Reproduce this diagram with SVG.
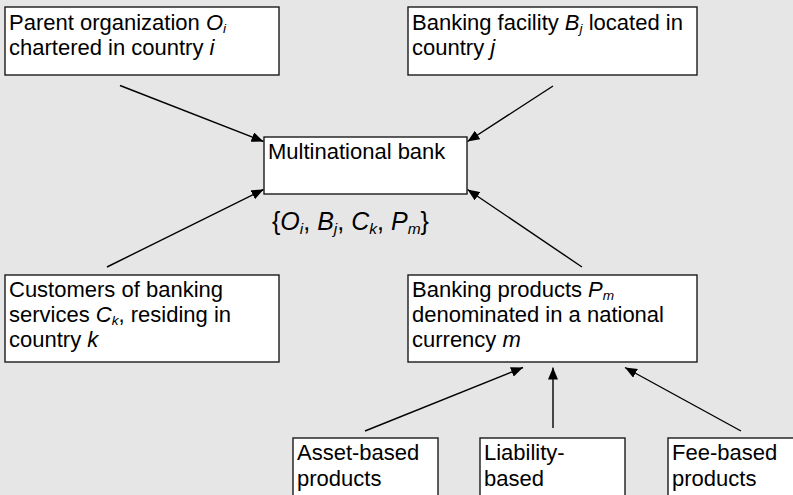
<svg xmlns="http://www.w3.org/2000/svg" width="793" height="495" viewBox="0 0 793 495">
<style>
.bg{fill:#e6e6e6}
.box{fill:#ffffff;stroke:#1a1a1a;stroke-width:1.4}
.t{font-family:"Liberation Sans",Arial,sans-serif;font-size:22px;fill:#000}
.lbl{font-family:"Liberation Sans",Arial,sans-serif;font-size:25px;fill:#000}
.i{font-style:italic}
.s{font-size:62%;font-style:italic}
.c{fill:none;stroke:#000;stroke-width:1.4}
</style>
<defs>
<marker id="ah" viewBox="0 0 12 10" refX="12" refY="5" markerWidth="12" markerHeight="10" markerUnits="userSpaceOnUse" orient="auto">
<path d="M0,0 L12,5 L0,10 Z" fill="#000"/>
</marker>
</defs>
<rect class="bg" x="0" y="0" width="793" height="495"/>
<g id="connectors">
<path class="c" d="M120,85.5 L263.5,141.5" marker-end="url(#ah)"/>
<path class="c" d="M553,86 L467.5,141.5" marker-end="url(#ah)"/>
<path class="c" d="M107,267 L263.5,189.5" marker-end="url(#ah)"/>
<path class="c" d="M582,267 L467.5,189.5" marker-end="url(#ah)"/>
<path class="c" d="M365,431 L523,367.5" marker-end="url(#ah)"/>
<path class="c" d="M553,428 L553,367.5" marker-end="url(#ah)"/>
<path class="c" d="M741,431 L625,367.5" marker-end="url(#ah)"/>
</g>
<g id="parent">
<rect class="box" x="5" y="7" width="274" height="68"/>
<text class="t" x="9" y="30">Parent organization <tspan class="i">O</tspan><tspan class="s" dy="3">i</tspan></text>
<text class="t" x="9" y="55">chartered in country <tspan class="i">i</tspan></text>
</g>
<g id="facility">
<rect class="box" x="408" y="7" width="289" height="68"/>
<text class="t" x="412" y="30">Banking facility <tspan class="i">B</tspan><tspan class="s" dy="3">j</tspan><tspan dy="-3"> located in</tspan></text>
<text class="t" x="412" y="55">country <tspan class="i">j</tspan></text>
</g>
<g id="bank">
<rect class="box" x="264" y="137" width="203" height="57"/>
<text class="t" x="268" y="159">Multinational bank</text>
</g>
<g id="set-label">
<text class="lbl" x="272" y="230">{<tspan class="i">O</tspan><tspan class="s" dy="4">i</tspan><tspan dy="-4">, </tspan><tspan class="i">B</tspan><tspan class="s" dy="4">j</tspan><tspan dy="-4">, </tspan><tspan class="i">C</tspan><tspan class="s" dy="4">k</tspan><tspan dy="-4">, </tspan><tspan class="i">P</tspan><tspan class="s" dy="4">m</tspan><tspan dy="-4">}</tspan></text>
</g>
<g id="customers">
<rect class="box" x="5" y="275" width="274" height="87"/>
<text class="t" x="9" y="297">Customers of banking</text>
<text class="t" x="9" y="322">services <tspan class="i">C</tspan><tspan class="s" dy="3">k</tspan><tspan dy="-3">, residing in</tspan></text>
<text class="t" x="9" y="347">country <tspan class="i">k</tspan></text>
</g>
<g id="products">
<rect class="box" x="408" y="275" width="289" height="87"/>
<text class="t" x="412" y="297">Banking products <tspan class="i">P</tspan><tspan class="s" dy="3">m</tspan></text>
<text class="t" x="412" y="322">denominated in a national</text>
<text class="t" x="412" y="347">currency <tspan class="i">m</tspan></text>
</g>
<g id="asset">
<rect class="box" x="293" y="438" width="145" height="80"/>
<text class="t" x="297" y="460">Asset-based</text>
<text class="t" x="297" y="486">products</text>
</g>
<g id="liability">
<rect class="box" x="480" y="438" width="145" height="80"/>
<text class="t" x="484" y="460">Liability-</text>
<text class="t" x="484" y="486">based</text>
</g>
<g id="fee">
<rect class="box" x="668" y="438" width="145" height="80"/>
<text class="t" x="672" y="460">Fee-based</text>
<text class="t" x="672" y="486">products</text>
</g>
</svg>
